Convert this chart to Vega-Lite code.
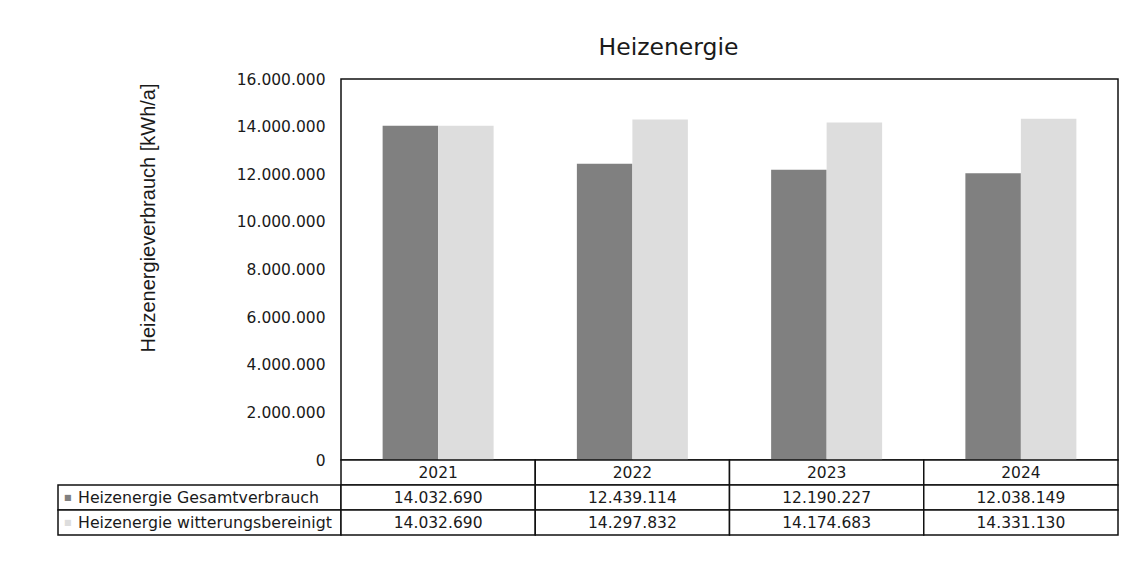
{
  "$schema": "https://vega.github.io/schema/vega-lite/v6.json",
  "background": "white",
  "padding": {"left": 57, "top": 34, "right": 0, "bottom": 0},
  "datasets": {
    "energie": [
      {"Jahr": "2021", "Serie": "Heizenergie Gesamtverbrauch", "Wert": 14032690},
      {"Jahr": "2022", "Serie": "Heizenergie Gesamtverbrauch", "Wert": 12439114},
      {"Jahr": "2023", "Serie": "Heizenergie Gesamtverbrauch", "Wert": 12190227},
      {"Jahr": "2024", "Serie": "Heizenergie Gesamtverbrauch", "Wert": 12038149},
      {"Jahr": "2021", "Serie": "Heizenergie witterungsbereinigt", "Wert": 14032690},
      {"Jahr": "2022", "Serie": "Heizenergie witterungsbereinigt", "Wert": 14297832},
      {"Jahr": "2023", "Serie": "Heizenergie witterungsbereinigt", "Wert": 14174683},
      {"Jahr": "2024", "Serie": "Heizenergie witterungsbereinigt", "Wert": 14331130}
    ],
    "serien": [
      {"Serie": "Heizenergie Gesamtverbrauch"},
      {"Serie": "Heizenergie witterungsbereinigt"}
    ]
  },
  "columns": 2,
  "spacing": 0,
  "bounds": "flush",
  "concat": [
    {
      "width": 283,
      "height": 381,
      "data": {"values": [{}]},
      "mark": {"type": "point", "opacity": 0},
      "view": {"stroke": null}
    },
    {
      "width": 777,
      "height": 381,
      "title": {"text": "Heizenergie", "font": "DejaVu Sans", "fontSize": 23.5, "fontWeight": "normal", "color": "#1a1a1a", "anchor": "middle", "frame": "group", "dx": -61, "offset": 13},
      "data": {"name": "energie"},
      "mark": {"type": "bar"},
      "view": {"stroke": "#111111", "strokeWidth": 1.5},
      "encoding": {
        "x": {"field": "Jahr", "type": "nominal", "scale": {"paddingInner": 0, "paddingOuter": 0}, "axis": null},
        "xOffset": {"field": "Serie", "type": "nominal", "scale": {"paddingInner": 0, "paddingOuter": 0.75}},
        "y": {
          "field": "Wert", "type": "quantitative",
          "scale": {"domain": [0, 16000000], "nice": false},
          "axis": {
            "title": "Heizenergieverbrauch [kWh/a]",
            "values": [0, 2000000, 4000000, 6000000, 8000000, 10000000, 12000000, 14000000, 16000000],
            "format": ",d",
            "grid": false, "ticks": false, "domain": false,
            "labelFont": "DejaVu Sans", "labelFontSize": 15.5, "labelColor": "#1a1a1a", "labelPadding": 16,
            "titleFont": "Liberation Sans", "titleFontSize": 20, "titleFontWeight": "normal", "titleColor": "#1a1a1a", "titlePadding": 78,
            "titleAnchor": "end", "titleY": 4
          }
        },
        "color": {
          "field": "Serie", "type": "nominal",
          "scale": {"domain": ["Heizenergie Gesamtverbrauch", "Heizenergie witterungsbereinigt"], "range": ["#808080", "#dddddd"]},
          "legend": null
        }
      }
    },
    {
      "width": 283,
      "height": 75,
      "data": {"name": "serien"},
      "view": {"stroke": null},
      "encoding": {
        "y": {"field": "Serie", "type": "nominal", "scale": {"domain": ["Jahr", "Heizenergie Gesamtverbrauch", "Heizenergie witterungsbereinigt"], "paddingInner": 0, "paddingOuter": 0}, "axis": null}
      },
      "layer": [
        {
          "mark": {"type": "rect", "fill": "white", "stroke": "#111111", "strokeWidth": 1.5},
          "encoding": {
            "x": {"datum": 0, "type": "quantitative", "scale": {"domain": [0, 1], "nice": false, "zero": false}, "axis": null},
            "x2": {"datum": 1}
          }
        },
        {
          "mark": {"type": "text", "text": "■", "align": "left", "baseline": "middle", "dx": 6, "fontSize": 8},
          "encoding": {
            "x": {"datum": 0, "type": "quantitative"},
            "color": {"field": "Serie", "type": "nominal", "scale": {"domain": ["Heizenergie Gesamtverbrauch", "Heizenergie witterungsbereinigt"], "range": ["#808080", "#dddddd"]}, "legend": null}
          }
        },
        {
          "mark": {"type": "text", "align": "left", "baseline": "middle", "dx": 20, "fontSize": 15.8, "color": "#1a1a1a"},
          "encoding": {
            "x": {"datum": 0, "type": "quantitative"},
            "text": {"field": "Serie"}
          }
        }
      ]
    },
    {
      "width": 777,
      "height": 75,
      "data": {"name": "energie"},
      "view": {"stroke": null},
      "layer": [
        {
          "transform": [{"filter": "datum.Serie == 'Heizenergie Gesamtverbrauch'"}],
          "mark": {"type": "rect", "fill": "white", "stroke": "#111111", "strokeWidth": 1.5},
          "encoding": {
            "x": {"field": "Jahr", "type": "nominal", "scale": {"paddingInner": 0, "paddingOuter": 0}, "axis": null},
            "y": {"datum": "Jahr", "type": "nominal", "scale": {"domain": ["Jahr", "Heizenergie Gesamtverbrauch", "Heizenergie witterungsbereinigt"], "paddingInner": 0, "paddingOuter": 0}, "axis": null}
          }
        },
        {
          "transform": [{"filter": "datum.Serie == 'Heizenergie Gesamtverbrauch'"}],
          "mark": {"type": "text", "baseline": "middle", "fontSize": 15.5, "color": "#1a1a1a"},
          "encoding": {
            "x": {"field": "Jahr", "type": "nominal"},
            "y": {"datum": "Jahr", "type": "nominal"},
            "text": {"field": "Jahr"}
          }
        },
        {
          "mark": {"type": "rect", "fill": "white", "stroke": "#111111", "strokeWidth": 1.5},
          "encoding": {
            "x": {"field": "Jahr", "type": "nominal"},
            "y": {"field": "Serie", "type": "nominal"}
          }
        },
        {
          "mark": {"type": "text", "baseline": "middle", "fontSize": 15.5, "color": "#1a1a1a"},
          "encoding": {
            "x": {"field": "Jahr", "type": "nominal"},
            "y": {"field": "Serie", "type": "nominal"},
            "text": {"field": "Wert", "type": "quantitative", "format": ",d"}
          }
        }
      ]
    }
  ],
  "config": {
    "locale": {"number": {"decimal": ",", "thousands": ".", "grouping": [3], "currency": ["", " €"]}},
    "font": "DejaVu Sans",
    "view": {"stroke": null},
    "text": {"font": "DejaVu Sans"}
  }
}
